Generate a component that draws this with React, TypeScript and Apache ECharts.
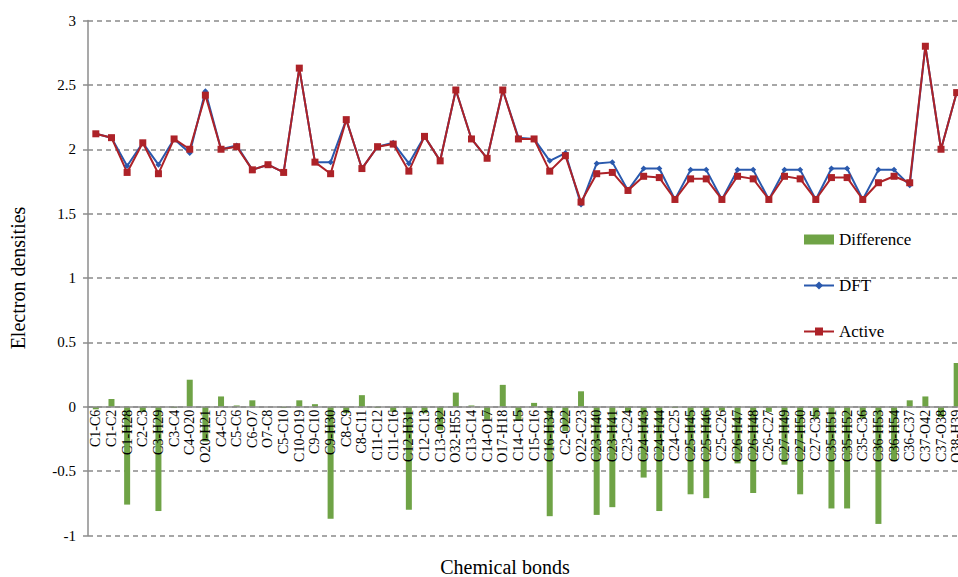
import React, { useEffect, useRef } from "react";
import * as echarts from "echarts";

// Bond labels along the category axis
const bonds = [
  "C1-C6", "C1-C2", "C1-H28", "C2-C3", "C3-H29", "C3-C4", "C4-O20", "O20-H21",
  "C4-C5", "C5-C6", "C6-O7", "O7-C8", "C5-C10", "C10-O19", "C9-C10", "C9-H30",
  "C8-C9", "C8-C11", "C11-C12", "C11-C16", "C12-H31", "C12-C13", "C13-O32", "O32-H55",
  "C13-C14", "C14-O17", "O17-H18", "C14-C15", "C15-C16", "C16-H34", "C2-O22", "O22-C23",
  "C23-H40", "C23-H41", "C23-C24", "C24-H43", "C24-H44", "C24-C25", "C25-H45", "C25-H46",
  "C25-C26", "C26-H47", "C26-H48", "C26-C27", "C27-H49", "C27-H50", "C27-C35", "C35-H51",
  "C35-H52", "C35-C36", "C36-H53", "C36-H54", "C36-C37", "C37-O42", "C37-O38", "O38-H39",
];

// Electron densities from DFT
const dft = [
  2.12, 2.09, 1.87, 2.05, 1.88, 2.08, 1.97, 2.45,
  2.0, 2.03, 1.84, 1.88, 1.82, 2.63, 1.9, 1.9,
  2.23, 1.85, 2.02, 2.05, 1.89, 2.1, 1.91, 2.46,
  2.08, 1.93, 2.46, 2.09, 2.08, 1.91, 1.97, 1.57,
  1.89, 1.9, 1.68, 1.85, 1.85, 1.61, 1.84, 1.84,
  1.61, 1.84, 1.84, 1.61, 1.84, 1.84, 1.61, 1.85,
  1.85, 1.61, 1.84, 1.84, 1.72, 2.8, 2.0, 2.44,
];

// Electron densities from the active model
const active = [
  2.12, 2.09, 1.82, 2.05, 1.81, 2.08, 2.0, 2.42,
  2.0, 2.02, 1.84, 1.88, 1.82, 2.63, 1.9, 1.81,
  2.23, 1.85, 2.02, 2.04, 1.83, 2.1, 1.91, 2.46,
  2.08, 1.93, 2.46, 2.08, 2.08, 1.83, 1.95, 1.59,
  1.81, 1.82, 1.68, 1.79, 1.78, 1.61, 1.77, 1.77,
  1.61, 1.79, 1.77, 1.61, 1.79, 1.77, 1.61, 1.78,
  1.78, 1.61, 1.74, 1.79, 1.74, 2.8, 2.0, 2.44,
];

// Difference between the two
const difference = [
  -0.02, 0.06, -0.76, -0.04, -0.81, -0.01, 0.21, -0.27,
  0.08, 0.01, 0.05, 0.0, -0.01, 0.05, 0.02, -0.87,
  -0.05, 0.09, -0.01, -0.04, -0.8, -0.05, -0.18, 0.11,
  0.01, -0.1, 0.17, -0.11, 0.03, -0.85, -0.19, 0.12,
  -0.84, -0.78, -0.04, -0.55, -0.81, -0.01, -0.68, -0.71,
  -0.03, -0.44, -0.67, -0.04, -0.45, -0.68, -0.09, -0.79,
  -0.79, -0.09, -0.91, -0.42, 0.05, 0.08, -0.08, 0.34,
];

const yTicks = { min: -1, max: 3, interval: 0.5 };

const SERIF = "'Liberation Serif', 'Times New Roman', Times, serif";

// Plot area, in pixels
const GRID_TOP = 20.5;
const GRID_BOTTOM = 41.5;
const CHART_H = 577;

export default function App() {
  const ref = useRef<HTMLDivElement>(null);

  useEffect(() => {
    if (!ref.current) return;
    const chart = echarts.init(ref.current, undefined, { renderer: "svg" });
    // distance from the bottom edge of the plot up to the zero line
    const plotH = CHART_H - GRID_TOP - GRID_BOTTOM;
    const zeroLift = (plotH * (0 - yTicks.min)) / (yTicks.max - yTicks.min);
    chart.setOption({
      animation: false,
      backgroundColor: "#ffffff",
      textStyle: { fontFamily: SERIF, color: "#000" },
      grid: {
        left: 88,
        right: -6.5,
        top: GRID_TOP,
        bottom: GRID_BOTTOM,
        containLabel: false,
        outerBoundsMode: "none",
      },
      legend: {
        orient: "vertical",
        left: 798,
        top: 226,
        itemWidth: 30,
        itemHeight: 10,
        itemGap: 29,
        textStyle: { fontFamily: SERIF, fontSize: 17, color: "#000" },
        data: [
          { name: "Difference", icon: "rect" },
          { name: "DFT" },
          { name: "Active" },
        ],
      },
      xAxis: {
        type: "category",
        data: bonds,
        position: "bottom",
        offset: -zeroLift,
        axisLine: { onZero: false, lineStyle: { color: "#8c8c8c", width: 1.5 } },
        axisTick: { show: false },
        axisLabel: {
          interval: 0,
          rotate: 90,
          margin: 3,
          fontFamily: SERIF,
          fontSize: 14,
          color: "#000",
        },
        z: 5,
      },
      yAxis: {
        type: "value",
        min: yTicks.min,
        max: yTicks.max,
        interval: yTicks.interval,
        name: "Electron densities",
        nameLocation: "middle",
        nameGap: 60,
        nameTextStyle: { fontFamily: SERIF, fontSize: 20, color: "#000" },
        axisLine: { show: true, lineStyle: { color: "#8c8c8c", width: 1.5 } },
        axisTick: { show: true, length: 5, lineStyle: { color: "#8c8c8c", width: 1.5 } },
        axisLabel: { fontFamily: SERIF, fontSize: 15, color: "#000", margin: 12 },
        splitLine: { show: true, lineStyle: { color: "#8a8a8a", type: [5, 4], width: 1.5 } },
      },
      graphic: [
        {
          type: "text",
          x: 505,
          y: 567,
          style: {
            text: "Chemical bonds",
            fontFamily: SERIF,
            fontSize: 20,
            fill: "#000",
            align: "center",
            verticalAlign: "middle",
          },
        },
      ],
      series: [
        {
          name: "Difference",
          type: "bar",
          data: difference,
          barWidth: 6,
          itemStyle: { color: "#6fa346" },
        },
        {
          name: "DFT",
          type: "line",
          data: dft,
          symbol: "diamond",
          symbolSize: 6,
          lineStyle: { color: "#2a59ad", width: 2 },
          itemStyle: { color: "#2a59ad" },
        },
        {
          name: "Active",
          type: "line",
          data: active,
          symbol: "rect",
          symbolSize: 7,
          lineStyle: { color: "#ad2228", width: 2 },
          itemStyle: { color: "#ad2228" },
        },
      ],
    });
    return () => chart.dispose();
  }, []);

  return (
    <div
      ref={ref}
      style={{ position: "fixed", left: 0, top: 0, width: 958, height: CHART_H }}
    />
  );
}
